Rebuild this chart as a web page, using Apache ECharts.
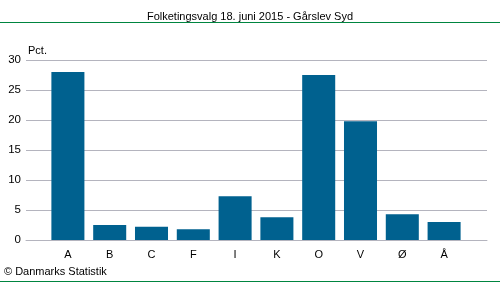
<!doctype html>
<html>
<head>
<meta charset="utf-8">
<title>Folketingsvalg 18. juni 2015 - Gårslev Syd</title>
<script src="https://cdn.jsdelivr.net/npm/echarts@6/dist/echarts.min.js"></script>
<style>
body{margin:0;background:#fff;}
</style>
</head>
<body>
<div id="chart" style="width:500px;height:282px;"></div>
<script type="text/javascript">
var partier = ['A', 'B', 'C', 'F', 'I', 'K', 'O', 'V', 'Ø', 'Å'];
var procent = [28.0, 2.5, 2.2, 1.8, 7.3, 3.8, 27.5, 19.8, 4.3, 3.0];
var yTicks = [0, 5, 10, 15, 20, 25, 30];

var mychart = echarts.init(document.getElementById('chart'));
// grid 0 = gridlines og y-akse, grid 1 = søjlerne (indrykket)
mychart.setOption({
	animation: false,
	textStyle: {
		fontFamily: 'Liberation Sans'
	},
	title: {
		text: 'Folketingsvalg 18. juni 2015 - Gårslev Syd',
		left: 'center',
		top: 6,
		textStyle: {
			fontSize: 11,
			fontWeight: 'normal',
			color: '#000'
		}
	},
	graphic: [
		{type: 'line', shape: {x1: 0, y1: 22.5, x2: 500, y2: 22.5}, style: {stroke: '#008540', lineWidth: 1}},
		{type: 'line', shape: {x1: 0, y1: 281.5, x2: 500, y2: 281.5}, style: {stroke: '#008540', lineWidth: 1}},
		{type: 'text', left: 4, top: 266, style: {text: '© Danmarks Statistik', font: '11px Liberation Sans', fill: '#000'}}
	],
	grid: [
		{left: 26, right: 13, top: 60, bottom: 42},
		{left: 47, right: 35, top: 60, bottom: 42}
	],
	xAxis: [
		{
			type: 'category',
			gridIndex: 0,
			data: [''],
			axisTick: {show: false},
			axisLabel: {show: false},
			axisLine: {lineStyle: {color: '#b4b4be'}}
		},
		{
			type: 'category',
			gridIndex: 1,
			data: partier,
			axisTick: {show: false},
			axisLine: {show: false},
			axisLabel: {color: '#000', fontSize: 11, margin: 9}
		}
	],
	yAxis: [
		{
			type: 'value',
			gridIndex: 0,
			name: 'Pct.',
			nameGap: 4,
			nameTextStyle: {color: '#000', fontSize: 11, align: 'left', padding: [0, 0, 0, 2]},
			min: yTicks[0],
			max: yTicks[yTicks.length - 1],
			interval: 5,
			axisLine: {show: false},
			axisTick: {show: false},
			axisLabel: {color: '#000', fontSize: 11.5, margin: 5},
			splitLine: {lineStyle: {color: '#b4b4be'}}
		},
		{
			type: 'value',
			gridIndex: 1,
			min: yTicks[0],
			max: yTicks[yTicks.length - 1],
			interval: 5,
			show: false,
			splitLine: {show: false}
		}
	],
	series: [{
		type: 'bar',
		xAxisIndex: 1,
		yAxisIndex: 1,
		data: procent,
		barCategoryGap: '21%',
		itemStyle: {color: '#00618f'}
	}]
});
</script>
</body>
</html>
